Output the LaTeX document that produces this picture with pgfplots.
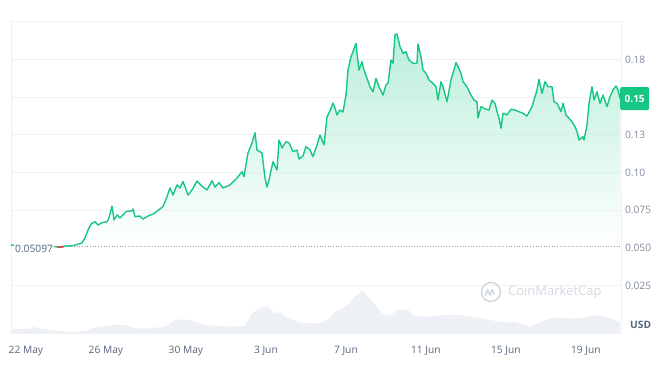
\documentclass[border=0pt]{standalone}
\usepackage{fontspec}
\setmainfont{Open Sans}
\usepackage{pgfplots}
\pgfplotsset{compat=1.18}
\usepackage{pgfplotstable}
\definecolor{cmcgreen}{HTML}{16C784}
\definecolor{cmcred}{HTML}{EA3943}
\definecolor{axgray}{HTML}{808A9D}
\definecolor{txtgray}{HTML}{58667E}
\definecolor{volgray}{HTML}{EDF0F4}
\definecolor{gridgray}{HTML}{EFF1F4}
\definecolor{wmgray}{HTML}{D3D8E0}

\pgfplotstableread{
d p
-0.745 0.0520
-0.295 0.0513
0.455 0.0520
1.205 0.0513
1.705 0.0505
1.955 0.0513
2.355 0.0515
2.805 0.0533
2.955 0.0566
3.105 0.0619
3.255 0.0659
3.455 0.0674
3.605 0.0652
3.805 0.0668
4.055 0.0674
4.155 0.0699
4.305 0.0778
4.405 0.0686
4.555 0.0719
4.705 0.0699
5.005 0.0741
5.305 0.0747
5.355 0.0759
5.455 0.0708
5.705 0.0712
5.855 0.0692
6.105 0.0712
6.355 0.0725
6.705 0.0759
6.855 0.0774
7.055 0.0840
7.205 0.0898
7.355 0.0851
7.555 0.0918
7.705 0.0898
7.855 0.0940
7.955 0.0906
8.105 0.0851
8.305 0.0885
8.555 0.0944
8.855 0.0904
9.055 0.0885
9.305 0.0946
9.455 0.0904
9.655 0.0933
9.855 0.0898
10.205 0.0918
10.555 0.0964
10.805 0.1006
10.905 0.0973
11.105 0.1130
11.305 0.1196
11.455 0.1264
11.555 0.1150
11.805 0.1130
11.955 0.0964
12.055 0.0904
12.155 0.0951
12.355 0.1072
12.555 0.1017
12.655 0.1216
12.805 0.1163
13.005 0.1205
13.155 0.1198
13.355 0.1138
13.555 0.1150
13.655 0.1090
13.855 0.1110
14.005 0.1172
14.205 0.1150
14.355 0.1105
14.555 0.1183
14.705 0.1249
14.905 0.1183
15.055 0.1369
15.155 0.1395
15.355 0.1461
15.455 0.1428
15.555 0.1382
15.705 0.1415
15.855 0.1402
16.005 0.1514
16.105 0.1680
16.255 0.1768
16.355 0.1801
16.505 0.1857
16.555 0.1793
16.655 0.1680
16.805 0.1735
16.905 0.1680
17.055 0.1625
17.205 0.1569
17.355 0.1536
17.505 0.1625
17.655 0.1569
17.855 0.1514
18.005 0.1581
18.105 0.1592
18.255 0.1746
18.355 0.1725
18.455 0.1912
18.555 0.1919
18.705 0.1835
18.855 0.1791
19.005 0.1801
19.155 0.1746
19.355 0.1725
19.555 0.1725
19.605 0.1853
19.755 0.1768
19.855 0.1680
20.005 0.1658
20.155 0.1614
20.355 0.1592
20.505 0.1569
20.605 0.1481
20.755 0.1603
20.855 0.1569
21.055 0.1470
21.255 0.1614
21.355 0.1658
21.505 0.1729
21.605 0.1702
21.755 0.1658
21.855 0.1603
22.055 0.1569
22.205 0.1526
22.405 0.1481
22.555 0.1470
22.605 0.1362
22.755 0.1437
22.955 0.1422
23.155 0.1415
23.305 0.1481
23.455 0.1459
23.555 0.1404
23.655 0.1362
23.755 0.1294
23.855 0.1393
24.055 0.1382
24.255 0.1420
24.455 0.1415
24.655 0.1404
24.855 0.1393
25.055 0.1375
25.305 0.1437
25.455 0.1503
25.555 0.1548
25.655 0.1618
25.805 0.1526
25.955 0.1603
26.105 0.1569
26.305 0.1569
26.405 0.1470
26.555 0.1459
26.755 0.1404
26.855 0.1459
27.005 0.1382
27.155 0.1360
27.305 0.1337
27.455 0.1304
27.555 0.1271
27.655 0.1216
27.855 0.1238
27.905 0.1216
28.055 0.1315
28.155 0.1459
28.305 0.1569
28.405 0.1481
28.555 0.1536
28.705 0.1459
28.855 0.1514
29.055 0.1437
29.205 0.1503
29.355 0.1548
29.505 0.1574
29.605 0.1548
29.705 0.1493
}\price

\pgfplotstableread{
d v
-0.745 4
0.205 4
0.305 6
0.955 4
1.455 2.3
2.205 1.3
2.955 2
3.455 5.3
3.955 7
4.455 8
4.955 8
5.455 4.7
6.205 4.7
6.955 6.3
7.455 13
7.955 13.7
8.455 11.3
8.955 8
9.455 7.3
10.205 6.3
10.955 7
11.305 19.7
11.805 26.3
12.105 25.7
12.455 19.7
12.705 20.3
13.105 14.7
13.705 10.3
14.455 9.7
14.705 9.7
15.105 13.7
15.455 21.3
15.955 25.7
16.455 36.3
16.805 42.3
17.105 36.3
17.455 28
17.805 19.7
18.205 17
18.605 23.7
19.105 23
19.455 17
20.205 16.3
20.955 18
21.705 18
22.455 15.7
23.205 13
23.955 10.3
24.455 11.3
25.205 6.3
25.705 10.3
26.305 15.7
26.955 14.7
27.705 14.7
28.455 18
28.955 16.3
29.455 13
29.705 10.7
}\volume

\begin{document}
\begin{tikzpicture}[font=\fontsize{10.2}{12}\selectfont]
\path[use as bounding box] (0,0) rectangle (654pt,369pt);
% volume
\begin{axis}[at={(11pt,36pt)}, anchor=south west, scale only axis,
  width=610pt, height=312pt, xmin=-0.745, xmax=29.755, ymin=0, ymax=312,
  hide axis]
\addplot[draw=none, fill=volgray] table[x=d,y=v]{\volume} \closedcycle;
\end{axis}
% price
\begin{axis}[at={(11pt,36pt)}, anchor=south west, scale only axis,
  width=610pt, height=312pt,
  xmin=-0.745, xmax=29.755, ymin=-0.00636, ymax=0.2005,
  clip=false,
  axis line style={draw=gridgray, line width=0.8pt},
  ymajorgrids, grid style={draw=gridgray, line width=0.8pt},
  ytick={0.025,0.075,0.1,0.125,0.15,0.175},
  yticklabels={0.025,0.075,0.10,0.13,,0.18},
  extra y ticks={0.05}, extra y tick labels={0.050},
  extra y tick style={grid=none},
  yticklabel pos=right,
  xtick={0,4,8,12,16,20,24,28},
  xticklabels={22 May,26 May,30 May,3 Jun,7 Jun,11 Jun,15 Jun,19 Jun},
  major tick length=0pt, tick style={draw=none},
  yticklabel style={text=axgray, xshift=0.5pt},
  xticklabel style={text=txtgray, yshift=-10pt},
  /pgf/number format/assume math mode=true,
  no markers]
\addplot[draw=none, top color=cmcgreen!70, bottom color=white, fill opacity=0.42]
  table[x=d,y=p]{\price} -- (axis cs:29.705,0.05097) -- (axis cs:-0.745,0.05097) -- cycle;
\draw[axgray!80, line width=0.7pt, dash pattern=on 0.7pt off 2pt] (axis cs:1.45,0.05097) -- (axis cs:29.755,0.05097);
\addplot[cmcgreen, line width=1.4pt, line join=round] table[x=d,y=p]{\price};
\addplot[cmcred, line width=1.4pt] coordinates {(1.55,0.0509) (1.705,0.0505) (1.9,0.0509)};
\node[anchor=west, fill=white, fill opacity=0.85, text opacity=1, text=txtgray, inner sep=1pt, xshift=3pt, yshift=-2pt] at (axis cs:-0.745,0.05097) {0.05097};
\node[anchor=west, fill=cmcgreen, text=white, font=\fontsize{10}{12}\selectfont\bfseries, rounded corners=2pt, minimum height=23pt, minimum width=29pt, inner sep=1pt, xshift=-1pt] at (axis cs:29.755,0.1491) {0.15};
\node[anchor=west, text=txtgray, font=\fontsize{10.2}{12}\selectfont\bfseries, inner sep=0pt, xshift=9pt] at (axis cs:29.755,-0.001) {USD};
% watermark
\node[anchor=west, text=wmgray, font=\fontsize{13}{15}\selectfont, inner sep=0pt] at (axis cs:24.1,0.0208) {CoinMarketCap};
\draw[wmgray, line width=1.5pt] (axis cs:23.25,0.0208) circle (9.5pt);
\draw[wmgray, line width=1.5pt, line join=round] (axis cs:23.25,0.0208) ++(-5.5pt,-3.5pt) -- ++(2.2pt,6pt) -- ++(2.4pt,-6pt) -- ++(2.2pt,6pt) -- ++(2.2pt,-5pt);
\end{axis}
\end{tikzpicture}
\end{document}
